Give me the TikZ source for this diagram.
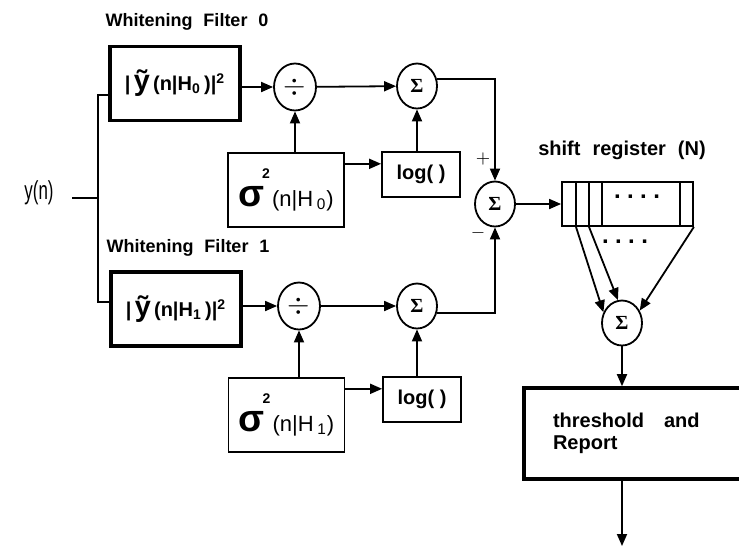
\documentclass[tikz,border=0pt]{standalone}
\usepackage{fontspec}
\setmainfont{Liberation Sans}
\newfontfamily\sumfont{Liberation Serif}
\usetikzlibrary{arrows.meta,shapes.geometric}
\newcommand\ytilde[1]{|\,{\Large\~{y}}\,(n|H\textsubscript{#1}\,)|\textsuperscript{2}}
\newcommand\sigvar[1]{{\fontsize{19}{19}\selectfont σ}\hspace{-1pt}\raisebox{14pt}{\fontsize{7}{7}\selectfont 2}\hspace{1pt}{\mdseries\fontsize{11}{11}\selectfont(n|H\,\textsubscript{#1})}}
\newcommand\regdots{.\hspace{3.2pt}.\hspace{3.2pt}.\hspace{3.2pt}.}

\begin{document}
\begin{tikzpicture}[x=.5pt,y=-.5pt,line width=.9pt,font=\bfseries\fontsize{10}{11}\selectfont,
  >={Triangle[length=6pt,width=5pt]},
  filterbox/.style={draw,line width=1.8pt,minimum width=65pt,minimum height=37pt,inner sep=0pt},
  varbox/.style={draw,minimum width=58pt,minimum height=37pt,inner sep=0pt},
  logbox/.style={draw,minimum width=39pt,minimum height=22.5pt,inner sep=0pt},
  sumnode/.style={draw,ellipse,minimum width=20pt,minimum height=22.5pt,inner sep=0pt,font=\sumfont\bfseries\fontsize{10}{10}\selectfont},
  divnode/.style={sumnode,minimum width=21pt,minimum height=23.5pt,font=\fontsize{15}{15}\selectfont},
  title/.style={font=\bfseries\fontsize{9}{10}\selectfont}]
  \useasboundingbox (0,0) rectangle (739,548);
  \node[font=\fontsize{13}{13}\selectfont] (ylab) at (39,193) {\scalebox{.65}[1]{y(n)}};
  \coordinate (yin) at (72,198); \coordinate (bus) at (98,198);
  \begin{scope}
    \node[title] (wf0) at (187,22) {Whitening\hspace{.6em}Filter\hspace{.6em}0};
    \node[filterbox] (y0) at (175,83.5) {\ytilde{0}};
    \node[divnode] (div0) at (295,87) {$\div$};
    \node[varbox] (sig0) at (286,190) {\sigvar{0}};
    \node[logbox] (log0) at (421,174.5) {log( )};
    \node[sumnode] (sum0) at (417,86) {Σ};
    \draw[->] (y0.east |- div0) -- (div0);
    \draw[->] (sig0.north -| div0) -- (div0);
    \draw[->] (div0) -- (sum0);
    \draw[->] (sig0.east |- log0.165) -- (log0.165);
    \draw[->] (log0.north -| sum0) -- (sum0);
  \end{scope}
  \begin{scope}
    \node[title] (wf1) at (188,248) {Whitening\hspace{.6em}Filter\hspace{.6em}1};
    \node[filterbox] (y1) at (176,309) {\ytilde{1}};
    \node[divnode] (div1) at (299,306) {$\div$};
    \node[varbox] (sig1) at (286.5,415) {\sigvar{1}};
    \node[logbox] (log1) at (422,399.5) {log( )};
    \node[sumnode] (sum1) at (417,306) {Σ};
    \draw[->] (y1.east |- div1) -- (div1);
    \draw[->] (sig1.north -| div1) -- (div1);
    \draw[->] (div1) -- (sum1);
    \draw[->] (sig1.east |- log1.165) -- (log1.165);
    \draw[->] (log1.north -| sum1) -- (sum1);
  \end{scope}
  \draw (yin) -- (bus);
  \draw (y0.190) -| (bus) |- (y1.174);
  \node[sumnode] (sumc) at (495,204) {Σ};
  \node[font=\fontsize{9}{9}\selectfont] (plus) at (483,159) {$+$};
  \node[font=\fontsize{9}{9}\selectfont] (minus) at (478,233) {$-$};
  \draw[->] (sum0.20) -| (sumc);
  \draw[->] (sum1.-20) -| (sumc);
  \node (sreg) at (622,150) {shift\hspace{.6em}register\hspace{.6em}(N)};
  \node[draw,minimum width=65.5pt,minimum height=22pt,inner sep=0pt] (reg) at (627.5,204) {};
  \foreach \x in {576,589,602,680} \draw (\x,0 |- reg.north) -- (\x,0 |- reg.south);
  \node[font=\bfseries\fontsize{12}{12}\selectfont] (dots0) at (637,197) {\regdots};
  \node[font=\bfseries\fontsize{12}{12}\selectfont] (dots1) at (625,242) {\regdots};
  \draw[->] (sumc) -- (reg);
  \node[sumnode] (sumr) at (622,323) {Σ};
  \draw[->] (576,0 |- reg.south) -- (sumr.150);
  \draw[->] (589,0 |- reg.south) -- (sumr.100);
  \draw[->] (reg.south east) -- (sumr.35);
  \node[draw,line width=1.8pt,minimum width=113pt,minimum height=45.5pt,text width=84pt,inner xsep=14.5pt,align=left] (thr) at (637,433.5) {threshold\hspace{10pt}and\\Report};
  \coordinate (out) at (622,546);
  \draw[->] (sumr) -- (sumr |- thr.north);
  \draw[->] (sumr |- thr.south) -- (out);
\end{tikzpicture}
\end{document}
